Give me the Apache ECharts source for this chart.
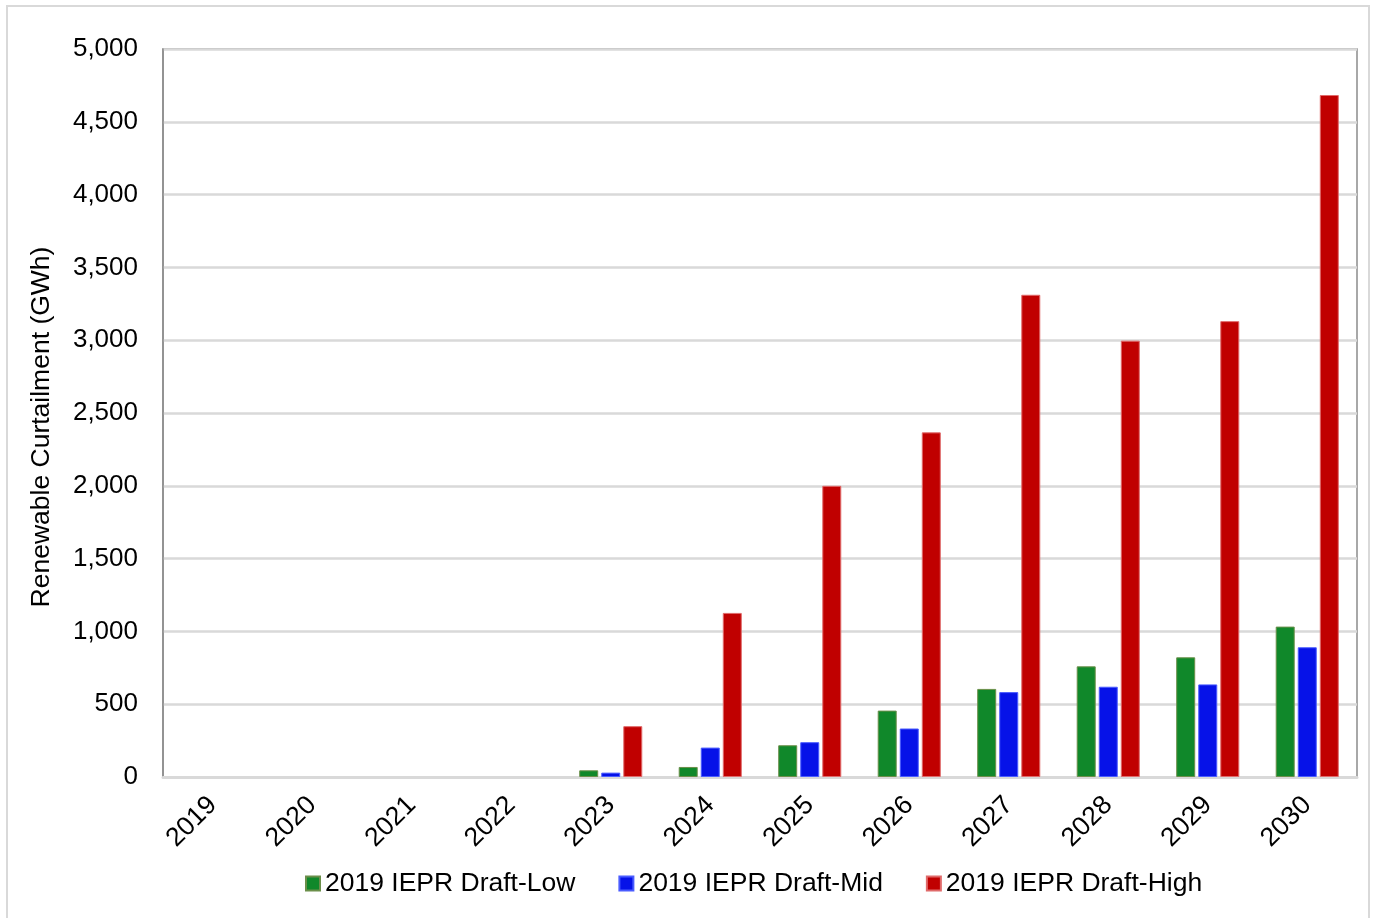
<!DOCTYPE html>
<html>
<head>
<meta charset="utf-8">
<script src="https://cdn.jsdelivr.net/npm/echarts@6/dist/echarts.min.js"></script>
<style>
  html, body { margin: 0; padding: 0; background: #fff; }
  #chart { width: 1377px; height: 918px; }
</style>
</head>
<body>
<div id="chart"></div>
<script>
// Years on the category axis
const years = ['2019', '2020', '2021', '2022', '2023', '2024', '2025', '2026', '2027', '2028', '2029', '2030'];

// Renewable curtailment (GWh) per forecast case
const draftLow  = [0, 0, 0, 0, 46, 69, 218, 456, 605, 760, 822, 1033];
const draftMid  = [0, 0, 0, 0, 30, 202, 239, 333, 583, 620, 636, 891];
const draftHigh = [0, 0, 0, 0, 349, 1127, 2000, 2367, 3312, 2997, 3131, 4684];

// Y-axis range
const yMin = 0;
const yMax = 5000;
const yStep = 500;

const FONT = 'Liberation Sans, Arial, sans-serif';

const chart = echarts.init(document.getElementById('chart'), null, { renderer: 'canvas' });

function barSeries(name, data, fill, edge) {
  return {
    name: name,
    type: 'bar',
    // zero-height bars get no outline so nothing shows on the axis
    data: data.map(v => (v === 0 ? { value: v, itemStyle: { borderWidth: 0 } } : v)),
    barWidth: 19,
    barGap: '16%',
    itemStyle: { color: fill, borderColor: edge, borderWidth: 1 },
    emphasis: { disabled: true }
  };
}

chart.setOption({
  animation: false,
  backgroundColor: '#ffffff',
  textStyle: { fontFamily: FONT, color: '#000' },
  graphic: [{
    type: 'rect',
    shape: { x: 7, y: 6, width: 1362, height: 940 },
    style: { fill: 'none', stroke: '#d9d9d9', lineWidth: 2 },
    silent: true
  }],
  grid: {
    left: 163, right: 20, top: 49, bottom: 141,
    show: true,
    borderColor: '#8c8c8c',
    borderWidth: 1.5,
    backgroundColor: 'transparent'
  },
  legend: {
    left: 300,
    top: 865,
    itemWidth: 14,
    itemHeight: 14,
    itemGap: 43,
    icon: 'rect',
    textStyle: { fontFamily: FONT, fontSize: 26.5, color: '#000' },
    data: ['2019 IEPR Draft-Low', '2019 IEPR Draft-Mid', '2019 IEPR Draft-High']
  },
  xAxis: {
    type: 'category',
    data: years,
    axisLine: { show: true, lineStyle: { color: '#d9d9d9', width: 3 } },
    axisTick: { show: false },
    axisLabel: {
      rotate: 45,
      margin: 24,
      fontFamily: FONT,
      fontSize: 26.5,
      color: '#000'
    }
  },
  yAxis: {
    type: 'value',
    min: yMin,
    max: yMax,
    interval: yStep,
    name: 'Renewable Curtailment (GWh)',
    nameLocation: 'middle',
    nameRotate: 90,
    nameGap: 108,
    nameTextStyle: { fontFamily: FONT, fontSize: 26.5, color: '#000', padding: [0, 28, 0, 0] },
    axisLine: { show: true, lineStyle: { color: '#8c8c8c', width: 1.5 } },
    axisTick: { show: false },
    axisLabel: {
      margin: 25,
      fontFamily: FONT,
      fontSize: 26,
      color: '#000',
      formatter: v => v.toLocaleString('en-US')
    },
    splitLine: { show: true, lineStyle: { color: '#d9d9d9', width: 2.5 } }
  },
  series: [
    barSeries('2019 IEPR Draft-Low', draftLow, '#10882a', '#6b8f4a'),
    barSeries('2019 IEPR Draft-Mid', draftMid, '#0612e8', '#4a5cff'),
    barSeries('2019 IEPR Draft-High', draftHigh, '#c00000', '#e06a6a')
  ]
});
</script>
</body>
</html>
